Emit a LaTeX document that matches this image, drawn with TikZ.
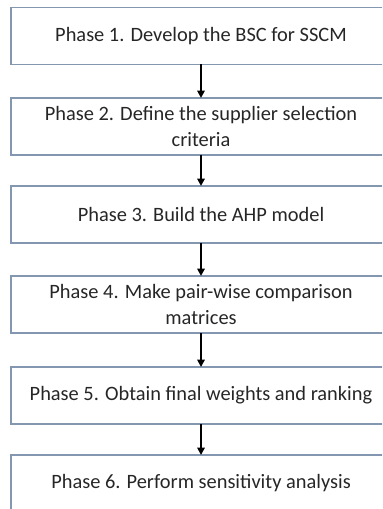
\documentclass[tikz,border=0pt]{standalone}
\usepackage{fontspec}
\setmainfont{Carlito}
\usetikzlibrary{arrows.meta}
\definecolor{phaseborder}{RGB}{132,151,176}
\tikzset{%
  >={Triangle[length=5.5pt,width=5.5pt]}, % arrow tip
  outer sep=0pt,%
  phase/.style={draw=phaseborder,line width=1.2pt,minimum width=285pt,
    minimum height=42.75pt,inner sep=0pt,align=center,text=black!85,
    font=\fontsize{15.3}{18.8}\selectfont},%
  flow/.style={->,line width=1.5pt}%
}

\begin{document}
\begin{tikzpicture}[x=0.75pt,y=-0.75pt] % pixel units, y going down

\useasboundingbox (0,0) rectangle (382,509);
\clip (0,0) rectangle (382,509);

\def\xc{201} % centre line of the chart
\node[phase] (p1) at (\xc,36) {Phase 1. Develop the BSC for SSCM};
\node[phase] (p2) at (\xc,126.5) {Phase 2. Define the supplier selection\\criteria};
\node[phase] (p3) at (\xc,214.5) {Phase 3. Build the AHP model};
\node[phase] (p4) at (\xc,304.5) {Phase 4. Make pair-wise comparison\\matrices};
\node[phase] (p5) at (\xc,395.5) {Phase 5. Obtain final weights and ranking};
\node[phase] (p6) at (\xc,483.5) {Phase 6. Perform sensitivity analysis};

\foreach \a/\b in {p1/p2,p2/p3,p3/p4,p4/p5,p5/p6}
  \draw[flow] (\a) -- (\b);

\end{tikzpicture}
\end{document}
